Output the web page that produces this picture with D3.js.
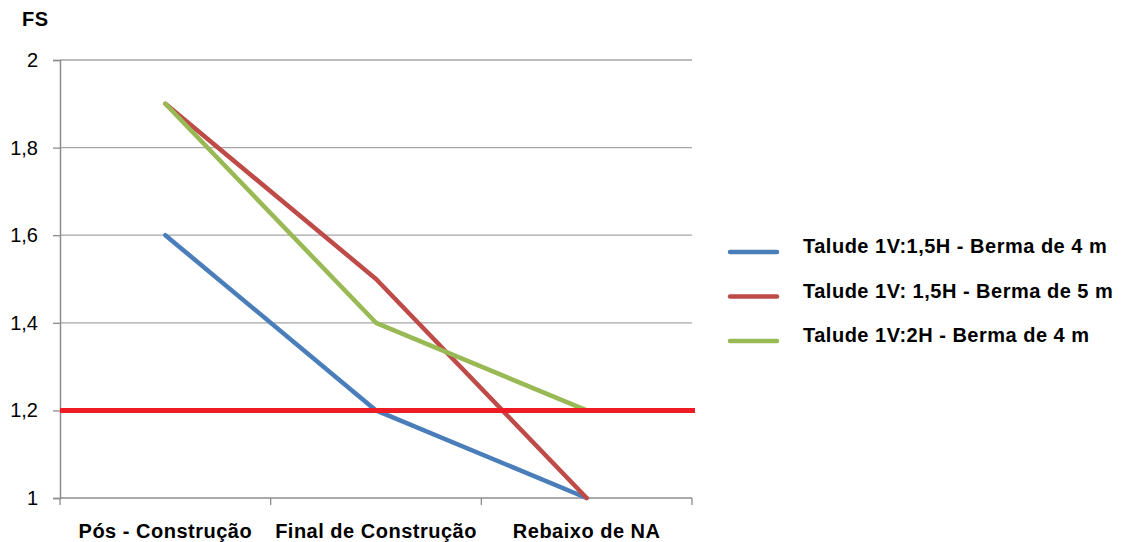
<!DOCTYPE html>
<html>
<head>
<meta charset="utf-8">
<script src="https://cdn.jsdelivr.net/npm/d3@7"></script>
<style>
  body { margin: 0; background: #fff; }
  svg { display: block; font-family: "Liberation Sans", Arial, sans-serif; }
</style>
</head>
<body>
<svg id="chart" width="1127" height="542"></svg>
<script>
// Fator de segurança por etapa
const categories = ["Pós - Construção", "Final de Construção", "Rebaixo de NA"];
const seriesNames = [
  "Talude 1V:1,5H - Berma de 4 m",
  "Talude 1V: 1,5H - Berma de 5 m",
  "Talude 1V:2H - Berma de 4 m"
];
const seriesColors = ["#4a7ebb", "#be4b48", "#98b954"];
const talude15_b4 = [1.6, 1.2, 1.0];
const talude15_b5 = [1.9, 1.5, 1.0];
const talude2_b4 = [1.9, 1.4, 1.2];
const fsMinimo = 1.2;
const yTicks = [1, 1.2, 1.4, 1.6, 1.8, 2];

const seriesValues = [talude15_b4, talude15_b5, talude2_b4];

const svg = d3.select("#chart");
const plotLeft = 60, plotRight = 692, plotTop = 60, plotBottom = 498;

const x = d3.scaleBand().domain(categories).range([plotLeft, plotRight]).paddingInner(0).paddingOuter(0);
const y = d3.scaleLinear().domain([1, 2]).range([plotBottom, plotTop]);
const fmt = v => d3.format(".1~f")(v).replace(".", ",");

// grade horizontal
svg.append("g")
  .selectAll("line")
  .data(yTicks.filter(t => t > 1))
  .join("line")
  .attr("x1", plotLeft).attr("x2", plotRight)
  .attr("y1", d => y(d)).attr("y2", d => y(d))
  .attr("stroke", "#a6a6a6").attr("stroke-width", 1.3);

// eixo Y
const yAxis = svg.append("g")
  .attr("transform", `translate(${plotLeft},0)`)
  .call(d3.axisLeft(y).tickValues(yTicks).tickFormat(fmt).tickSize(7).tickPadding(15));
yAxis.select(".domain").attr("stroke", "#8c8c8c").attr("stroke-width", 1.5);
yAxis.selectAll(".tick line").attr("stroke", "#8c8c8c").attr("stroke-width", 1.3);
yAxis.selectAll(".tick text")
  .attr("font-size", 20).attr("fill", "#000")
  .attr("font-family", "Liberation Sans, Arial, sans-serif");

// eixo X
const xAxis = svg.append("g")
  .attr("transform", `translate(0,${plotBottom})`)
  .call(d3.axisBottom(x).tickSize(0).tickPadding(26));
xAxis.select(".domain").remove();
xAxis.append("line").attr("x1", plotLeft).attr("x2", plotRight).attr("y1", 0).attr("y2", 0)
  .attr("stroke", "#8c8c8c").attr("stroke-width", 1.5);
xAxis.selectAll(".xsep")
  .data(d3.range(categories.length + 1))
  .join("line")
  .attr("class", "xsep")
  .attr("x1", i => plotLeft + i * x.step()).attr("x2", i => plotLeft + i * x.step())
  .attr("y1", 0).attr("y2", 7)
  .attr("stroke", "#8c8c8c").attr("stroke-width", 1.3);
xAxis.selectAll(".tick text")
  .attr("font-size", 20).attr("font-weight", "bold").attr("fill", "#000")
  .attr("letter-spacing", 0.5)
  .attr("font-family", "Liberation Sans, Arial, sans-serif");

// título do eixo
svg.append("text").attr("x", 22).attr("y", 26)
  .attr("font-size", 20).attr("font-weight", "bold").attr("letter-spacing", 0.5).text("FS");

// séries
const line = d3.line()
  .x((d, i) => x(categories[i]) + x.bandwidth() / 2)
  .y(d => y(d));

seriesValues.forEach((vals, k) => {
  svg.append("path")
    .datum(vals)
    .attr("d", line)
    .attr("fill", "none")
    .attr("stroke", seriesColors[k])
    .attr("stroke-width", 4.5)
    .attr("stroke-linecap", "round")
    .attr("stroke-linejoin", "round");
});

// FS mínimo
svg.append("line")
  .attr("x1", plotLeft).attr("x2", plotRight + 3)
  .attr("y1", y(fsMinimo)).attr("y2", y(fsMinimo))
  .attr("stroke", "#ee1c25").attr("stroke-width", 5);

// legenda
const legend = svg.append("g");
seriesNames.forEach((name, k) => {
  const ly = 252 + k * 44.5;
  legend.append("line")
    .attr("x1", 730).attr("x2", 777)
    .attr("y1", ly).attr("y2", ly)
    .attr("stroke", seriesColors[k]).attr("stroke-width", 4.5)
    .attr("stroke-linecap", "round");
  legend.append("text")
    .attr("x", 803).attr("y", ly + 1)
    .attr("font-size", 20).attr("font-weight", "bold")
    .attr("letter-spacing", 0.5)
    .text(name);
});
</script>
</body>
</html>
